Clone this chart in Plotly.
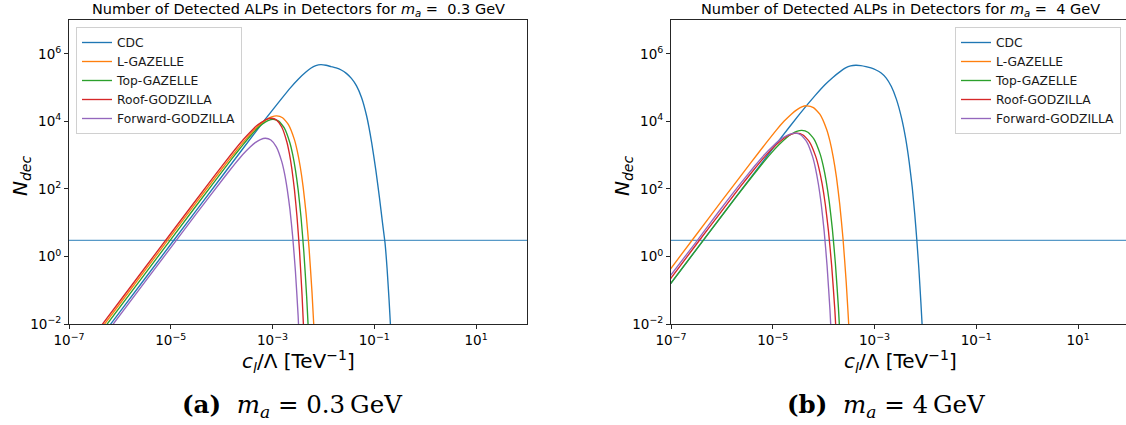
import numpy as np
import plotly.graph_objects as go

# ---------------- data (log10 values) ----------------
detectors = ["CDC", "L-GAZELLE", "Top-GAZELLE", "Roof-GODZILLA", "Forward-GODZILLA"]
colors = ["#1f77b4", "#ff7f0e", "#2ca02c", "#d62728", "#9467bd"]

threshold = 3.0

c_ticks = [1e-7, 1e-5, 1e-3, 1e-1, 1e1]
c_tick_labels = ["10<sup>\u22127</sup>", "10<sup>\u22125</sup>", "10<sup>\u22123</sup>",
                 "10<sup>\u22121</sup>", "10<sup>1</sup>"]
n_ticks = [1e-2, 1e0, 1e2, 1e4, 1e6]
n_tick_labels = ["10<sup>\u22122</sup>", "10<sup>0</sup>", "10<sup>2</sup>",
                 "10<sup>4</sup>", "10<sup>6</sup>"]

# panel (a): m_a = 0.3 GeV   (log10 c_l/Lambda , log10 N_dec)
a_cdc_logc = [-6.6, -6.0, -5.0, -4.0, -3.15, -2.85, -2.65, -2.5, -2.35, -2.25, -2.15, -2.05,
              -1.95, -1.85, -1.75, -1.65, -1.55, -1.45, -1.35, -1.25, -1.15, -1.05, -0.97,
              -0.9, -0.84, -0.79, -0.75, -0.71, -0.67, -0.64]
a_cdc_logn = [-2.84, -1.64, 0.36, 2.36, 4.05, 4.62, 4.99, 5.24, 5.45, 5.57, 5.65, 5.68,
              5.66, 5.62, 5.58, 5.52, 5.42, 5.27, 5.05, 4.7, 4.15, 3.35, 2.55,
              1.75, 1.0, 0.4, -0.35, -1.3, -2.4, -3.3]
a_lgaz_logc = [-6.6, -6.0, -5.0, -4.02, -3.72, -3.52, -3.37, -3.22, -3.12, -3.02, -2.92,
               -2.804, -2.688, -2.572, -2.514, -2.456, -2.398, -2.34, -2.282, -2.224,
               -2.166, -2.108]
a_lgaz_logn = [-2.6, -1.4, 0.6, 2.545, 3.12, 3.48, 3.73, 3.94, 4.05, 4.13, 4.16,
               4.106, 3.904, 3.466, 3.119, 2.655, 2.047, 1.254, 0.23, -1.085,
               -2.76, -4.9]
a_tgaz_logc = [-6.6, -5.5, -4.5, -3.79, -3.59, -3.44, -3.29, -3.19, -3.09, -2.99,
               -2.88, -2.77, -2.66, -2.605, -2.55, -2.495, -2.44, -2.385, -2.33, -2.275, -2.22]
a_tgaz_logn = [-2.7, -0.5, 1.5, 2.91, 3.29, 3.56, 3.80, 3.93, 4.02, 4.06,
               4.006, 3.804, 3.366, 3.019, 2.555, 1.947, 1.154, 0.13, -1.185, -2.86, -5.0]
a_rgod_logc = [-6.6, -6.0, -5.0, -4.12, -3.82, -3.62, -3.47, -3.32, -3.22, -3.12, -3.02,
               -2.92, -2.82, -2.72, -2.67, -2.62, -2.57, -2.52, -2.47, -2.42, -2.37, -2.32]
a_rgod_logn = [-2.52, -1.32, 0.68, 2.43, 3.01, 3.38, 3.63, 3.86, 3.97, 4.06, 4.09,
               4.036, 3.834, 3.396, 3.049, 2.585, 1.977, 1.184, 0.16, -1.155, -2.83, -4.98]
a_fgod_logc = [-6.6, -5.5, -4.5, -3.94, -3.74, -3.59, -3.44, -3.34, -3.24, -3.14,
               -3.033, -2.926, -2.819, -2.765, -2.712, -2.658, -2.605, -2.551, -2.498, -2.444]
a_fgod_logn = [-2.94, -0.74, 1.26, 2.36, 2.74, 3.01, 3.24, 3.37, 3.46, 3.5,
               3.446, 3.244, 2.806, 2.459, 1.995, 1.387, 0.594, -0.43, -1.745, -3.42]

# panel (b): m_a = 4 GeV
b_cdc_logc = [-7.1, -6.5, -6.0, -5.37, -4.87, -4.47, -4.17, -3.97, -3.82, -3.67, -3.57, -3.47,
              -3.37, -3.27, -3.17, -3.07, -2.97, -2.87, -2.77, -2.67, -2.57, -2.47, -2.39,
              -2.32, -2.26, -2.21, -2.17, -2.13, -2.09, -2.05, -2.02]
b_cdc_logn = [-0.99, 0.21, 1.21, 2.46, 3.45, 4.22, 4.76, 5.09, 5.30, 5.48, 5.58, 5.64,
              5.66, 5.65, 5.62, 5.58, 5.52, 5.43, 5.28, 5.03, 4.65, 4.1, 3.5,
              2.8, 2.05, 1.25, 0.5, -0.35, -1.35, -2.45, -3.3]
b_lgaz_logc = [-7.1, -6.5, -6.0, -5.43, -5.13, -4.93, -4.78, -4.63, -4.53, -4.43, -4.33,
               -4.201, -4.072, -3.943, -3.878, -3.814, -3.749, -3.685, -3.62, -3.556,
               -3.491, -3.427]
b_lgaz_logn = [-0.55, 0.65, 1.65, 2.78, 3.36, 3.74, 4.0, 4.22, 4.34, 4.43, 4.46,
               4.406, 4.204, 3.766, 3.419, 2.955, 2.347, 1.554, 0.53, -0.785,
               -2.46, -4.61]
b_tgaz_logc = [-7.1, -6.5, -5.93, -5.53, -5.23, -5.03, -4.88, -4.73, -4.63, -4.53, -4.43,
               -4.31, -4.19, -4.07, -4.01, -3.95, -3.89, -3.83, -3.77, -3.71, -3.65]
b_tgaz_logn = [-0.99, 0.21, 1.345, 2.13, 2.70, 3.06, 3.305, 3.515, 3.625, 3.70, 3.73,
               3.676, 3.474, 3.036, 2.689, 2.225, 1.617, 0.824, -0.2, -1.515, -3.19]
b_rgod_logc = [-7.1, -6.5, -6.03, -5.63, -5.33, -5.13, -4.98, -4.83, -4.73, -4.63, -4.53,
               -4.405, -4.28, -4.155, -4.0925, -4.03, -3.9675, -3.905, -3.8425, -3.78, -3.7175]
b_rgod_logn = [-0.84, 0.36, 1.29, 2.08, 2.645, 3.0, 3.24, 3.44, 3.55, 3.62, 3.65,
               3.596, 3.394, 2.956, 2.609, 2.145, 1.537, 0.744, -0.28, -1.595, -3.27]
b_fgod_logc = [-7.1, -6.5, -6.06, -5.66, -5.36, -5.16, -5.01, -4.86, -4.76, -4.66, -4.56,
               -4.446, -4.332, -4.218, -4.161, -4.104, -4.047, -3.99, -3.933, -3.876, -3.819]
b_fgod_logn = [-0.74, 0.44, 1.33, 2.11, 2.67, 3.02, 3.25, 3.45, 3.55, 3.62, 3.65,
               3.596, 3.394, 2.956, 2.609, 2.145, 1.537, 0.744, -0.28, -1.595, -3.27]

panel_a = [(a_cdc_logc, a_cdc_logn), (a_lgaz_logc, a_lgaz_logn), (a_tgaz_logc, a_tgaz_logn),
           (a_rgod_logc, a_rgod_logn), (a_fgod_logc, a_fgod_logn)]
panel_b = [(b_cdc_logc, b_cdc_logn), (b_lgaz_logc, b_lgaz_logn), (b_tgaz_logc, b_tgaz_logn),
           (b_rgod_logc, b_rgod_logn), (b_fgod_logc, b_fgod_logn)]

titles = ["Number of Detected ALPs in Detectors for <i>m<sub>a</sub></i> =\u00a0 0.3 GeV",
          "Number of Detected ALPs in Detectors for <i>m<sub>a</sub></i> =\u00a0 4 GeV"]
captions = ["<b>(a)</b>\u00a0 <i>m<sub>a</sub></i> = 0.3\u2009GeV",
            "<b>(b)</b>\u00a0 <i>m<sub>a</sub></i> = 4\u2009GeV"]
x_title = "<i>c<sub>l</sub></i>/\u039b [TeV<sup>\u22121</sup>]"
y_title = "<i>N<sub>dec</sub></i>"

# ---------------- layout geometry (pixels) ----------------
W, H = 1126, 425
ax_left = [69, 671]
ax_width = 458
ax_top, ax_bottom = 20, 324
px_per_dec = ax_width / 9.0

FONT = "DejaVu Sans"

fig = go.Figure()

for p, (panel, xa, ya, lg) in enumerate([(panel_a, "x", "y", "legend"),
                                         (panel_b, "x2", "y2", "legend2")]):
    for i, (lc, ln) in enumerate(panel):
        fig.add_trace(go.Scatter(
            x=np.power(10.0, lc), y=np.power(10.0, ln), mode="lines",
            name=detectors[i],
            line=dict(color=colors[i], width=1.35, shape="spline", smoothing=0.5),
            xaxis=xa, yaxis=ya, legend=lg))
    fig.add_shape(type="line", xref=xa + " domain", x0=0, x1=1, yref=ya, y0=threshold, y1=threshold,
                  line=dict(color="rgba(31,119,180,0.75)", width=1.1), layer="below")

axis_common = dict(type="log", showgrid=False, zeroline=False, showline=True,
                   linecolor="#262626", linewidth=1, ticks="outside", ticklen=4,
                   tickcolor="#262626", tickwidth=1, automargin=False,
                   tickfont=dict(family=FONT, size=13.5, color="black"))

x0a = ax_left[0] / W
x1a = (ax_left[0] + ax_width) / W
x0b = ax_left[1] / W
ydom = [1 - ax_bottom / H, 1 - ax_top / H]
xb_max = -7 + (W - ax_left[1]) / px_per_dec

legend_common = dict(bgcolor="rgba(255,255,255,0.8)", bordercolor="#d0d0d0", borderwidth=1,
                     font=dict(family=FONT, size=12.3, color="#1a1a1a"), itemwidth=30,
                     tracegroupgap=0)

fig.update_layout(
    width=W, height=H, margin=dict(l=0, r=0, t=0, b=0, autoexpand=False),
    paper_bgcolor="white", plot_bgcolor="white",
    xaxis=dict(domain=[x0a, x1a], range=[-7, 2], anchor="y", mirror=True,
               tickvals=c_ticks, ticktext=c_tick_labels, **axis_common),
    yaxis=dict(domain=ydom, range=[-2, 7], anchor="x", mirror=True,
               tickvals=n_ticks, ticktext=n_tick_labels, **axis_common),
    xaxis2=dict(domain=[x0b, 1.0], range=[-7, xb_max], anchor="y2", mirror=True,
                tickvals=c_ticks, ticktext=c_tick_labels, **axis_common),
    yaxis2=dict(domain=ydom, range=[-2, 7], anchor="x2", mirror=False,
                tickvals=n_ticks, ticktext=n_tick_labels, **axis_common),
    legend=dict(x=76 / W, y=1 - 27 / H, xanchor="left", yanchor="top", **legend_common),
    legend2=dict(x=1121 / W, y=1 - 27 / H, xanchor="right", yanchor="top", **legend_common),
    showlegend=True,
)

centers = [(ax_left[0] + ax_width / 2) / W, (ax_left[1] + ax_width / 2) / W]
cap_centers = [292 / W, 886 / W]
ytitle_x = [21 / W, 623 / W]
for k in range(2):
    fig.add_annotation(text=titles[k], xref="paper", yref="paper", x=centers[k], y=1 - 10 / H,
                       xanchor="center", yanchor="middle", showarrow=False,
                       font=dict(family=FONT, size=14.5, color="black"))
    fig.add_annotation(text=x_title, xref="paper", yref="paper", x=centers[k], y=1 - 361 / H,
                       xanchor="center", yanchor="middle", showarrow=False,
                       font=dict(family=FONT, size=20, color="black"))
    fig.add_annotation(text=y_title, xref="paper", yref="paper", x=ytitle_x[k], y=1 - 176 / H,
                       xanchor="center", yanchor="middle", showarrow=False, textangle=-90,
                       font=dict(family=FONT, size=20, color="black"))
    fig.add_annotation(text=captions[k], xref="paper", yref="paper", x=cap_centers[k], y=1 - 406 / H,
                       xanchor="center", yanchor="middle", showarrow=False,
                       font=dict(family="DejaVu Serif", size=24.5, color="black"))

fig.write_html("out.html")
